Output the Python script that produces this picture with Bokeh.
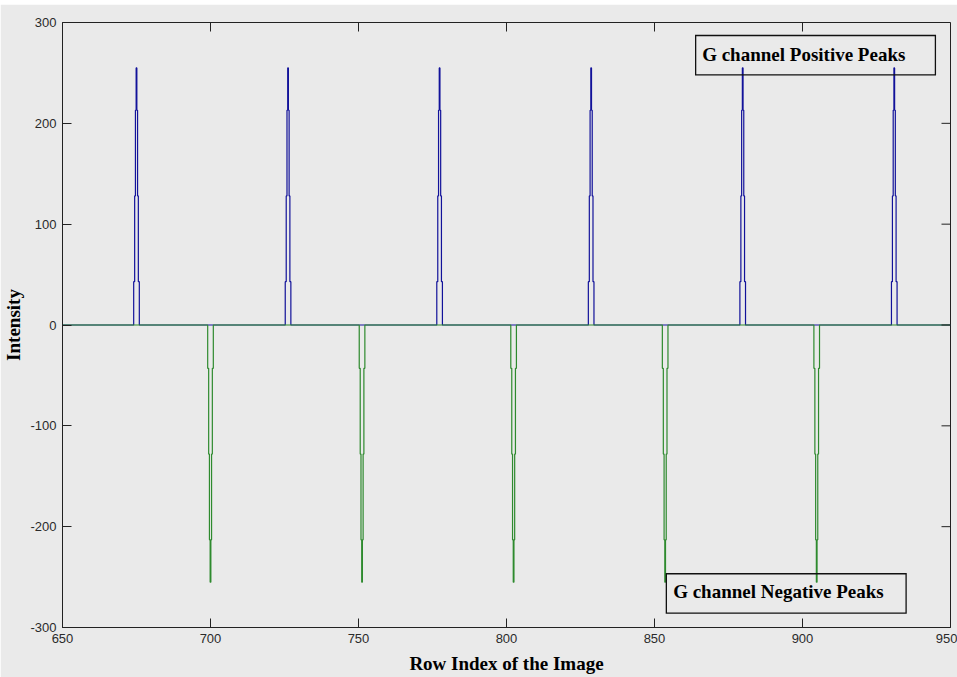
import math
from bokeh.plotting import figure
from bokeh.models import FixedTicker, BoxAnnotation, Label, Range1d, Spacer
from bokeh.layouts import column
from bokeh.embed import file_html
from bokeh.resources import INLINE

# ---- data ----
pos_centers = [675.0, 726.2, 777.4, 828.6, 879.8, 931.0]
neg_centers = [700.0, 751.2, 802.4, 853.6, 904.8]
peak_levels = [43, 128, 213, 255]          # stair levels of each pulse
peak_halfwidths = [0.95, 0.62, 0.36, 0.12]  # half-width (rows) at each level
x_start, x_end = 650, 950
x_ticks = [650, 700, 750, 800, 850, 900, 950]
x_tick_labels = ["650", "700", "750", "800", "850", "900", "950"]
y_ticks = [-300, -200, -100, 0, 100, 200, 300]
y_tick_labels = ["-300", "-200", "-100", "0", "100", "200", "300"]


def build_series(centers, sign):
    xs, ys = [x_start], [0]
    for c in centers:
        xs.append(c - peak_halfwidths[0]); ys.append(0)
        for i, lv in enumerate(peak_levels):
            xs.append(c - peak_halfwidths[i]); ys.append(sign * lv)
            if i + 1 < len(peak_levels):
                xs.append(c - peak_halfwidths[i + 1]); ys.append(sign * lv)
        xs.append(c + peak_halfwidths[-1]); ys.append(sign * peak_levels[-1])
        for i in range(len(peak_levels) - 1, -1, -1):
            xs.append(c + peak_halfwidths[i]); ys.append(sign * peak_levels[i])
            if i - 1 >= 0:
                xs.append(c + peak_halfwidths[i]); ys.append(sign * peak_levels[i - 1])
        xs.append(c + peak_halfwidths[0]); ys.append(0)
    xs.append(x_end); ys.append(0)
    return xs, ys


bx, by = build_series(pos_centers, 1)
gx, gy = build_series(neg_centers, -1)

BG = "#eaeaea"
AX = "#222222"
TICK_LEN = 9

p = figure(width=957, height=673, output_backend="svg", toolbar_location=None,
           x_range=Range1d(x_start, x_end), y_range=Range1d(y_ticks[0], y_ticks[-1]),
           min_border_left=62, min_border_right=7, min_border_top=18, min_border_bottom=50)
p.background_fill_color = BG
p.border_fill_color = BG
p.outline_line_color = AX
p.outline_line_width = 1
p.grid.visible = False

p.line(bx, by, line_color="#12129a", line_width=1.2)
p.line(gx, gy, line_color="#2e8a2e", line_width=1.2)

# mirrored inward ticks on top and right edges
p.ray(x=x_ticks, y=[y_ticks[-1]] * len(x_ticks), length=TICK_LEN, length_units="screen",
      angle=-math.pi / 2, line_color=AX, line_width=1)
p.ray(x=[x_end] * len(y_ticks), y=y_ticks, length=TICK_LEN, length_units="screen",
      angle=math.pi, line_color=AX, line_width=1)

for ax in (p.xaxis[0], p.yaxis[0]):
    ax.axis_line_color = AX
    ax.major_tick_line_color = AX
    ax.major_tick_in = TICK_LEN
    ax.major_tick_out = 0
    ax.minor_tick_line_color = None
    ax.major_label_text_font = "Liberation Sans"
    ax.major_label_text_font_size = "13px"
    ax.major_label_text_color = "#2a2a2a"
    ax.axis_label_text_font = "Liberation Serif"
    ax.axis_label_text_font_style = "bold"
    ax.axis_label_text_font_size = "19px"
    ax.axis_label_text_color = "#000000"

p.xaxis[0].ticker = FixedTicker(ticks=x_ticks)
p.yaxis[0].ticker = FixedTicker(ticks=y_ticks)
p.xaxis[0].major_label_overrides = {t: s for t, s in zip(x_ticks, x_tick_labels)}
p.yaxis[0].major_label_overrides = {t: s for t, s in zip(y_ticks, y_tick_labels)}
p.xaxis[0].axis_label = "Row Index of the Image"
p.yaxis[0].axis_label = "Intensity"
p.xaxis[0].major_label_standoff = 6
p.yaxis[0].major_label_standoff = 6
p.xaxis[0].axis_label_standoff = 7
p.yaxis[0].axis_label_standoff = 3

# annotation boxes
for l, r, t, b in ((863.9, 944.9, 287.1, 248.0), (854.0, 935.0, -246.7, -285.8)):
    p.add_layout(BoxAnnotation(left=l, right=r, top=t, bottom=b,
                               fill_alpha=0, line_color="#111111", line_alpha=1,
                               line_width=1.3, line_join="miter"))
p.add_layout(Label(x=866.1, y=268.5, text="G channel Positive Peaks",
                   text_font="Liberation Serif", text_font_style="bold",
                   text_font_size="19px", text_color="#000000",
                   text_baseline="middle", text_align="left"))
p.add_layout(Label(x=856.3, y=-264.5, text="G channel Negative Peaks",
                   text_font="Liberation Serif", text_font_style="bold",
                   text_font_size="19px", text_color="#000000",
                   text_baseline="middle", text_align="left"))

layout = column(Spacer(width=957, height=4), p)

open("out.html", "w").write(file_html(layout, INLINE))
